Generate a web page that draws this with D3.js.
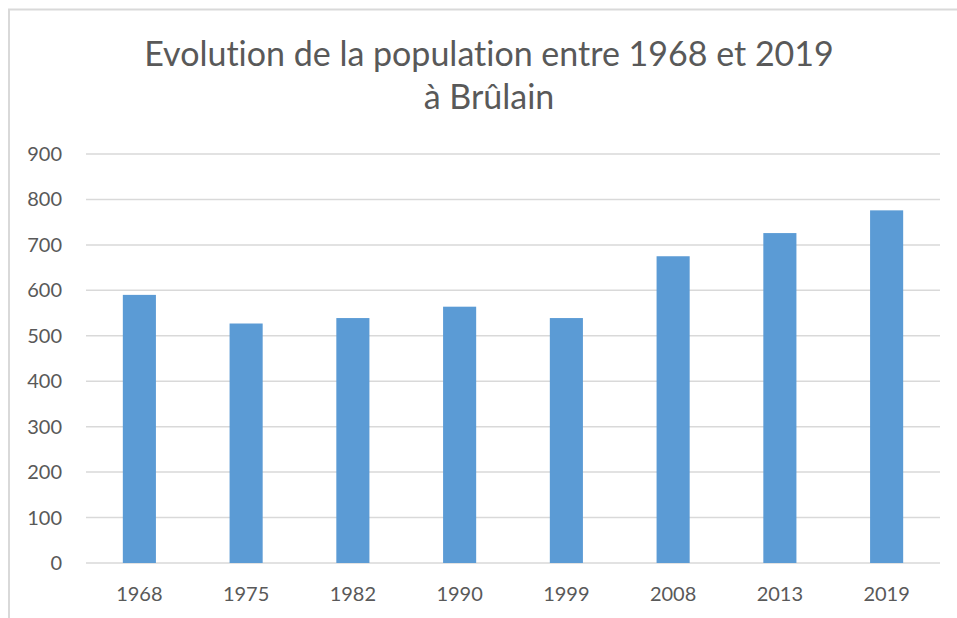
<!DOCTYPE html>
<html><head><meta charset="utf-8">
<script src="https://cdn.jsdelivr.net/npm/d3@7"></script>
<style>body{margin:0;background:#fff}svg{display:block}text{font-variant-ligatures:none}</style>
</head><body>
<script>
const years = ["1968","1975","1982","1990","1999","2008","2013","2019"];
const population = [590, 527, 539, 564, 539, 675, 726, 776];
const yTicks = [0,100,200,300,400,500,600,700,800,900];
const titleLines = ["Evolution de la population entre 1968 et 2019","à Brûlain"];

const W=957,H=618;
const svg=d3.select("body").append("svg").attr("width",W).attr("height",H);
svg.append("rect").attr("x",0).attr("y",0).attr("width",W).attr("height",H).attr("fill","#fff");
// border
svg.append("path").attr("d","M9,618 V9.5 H957").attr("fill","none").attr("stroke","#d9d9d9").attr("stroke-width",2);

const font="Lato, 'Open Sans', sans-serif";
const x=d3.scaleBand().domain(years).range([86,940]).paddingInner(0.69).paddingOuter(0.345);
const y=d3.scaleLinear().domain([0,900]).range([563,154]);

svg.append("g").selectAll("line").data(yTicks).join("line")
 .attr("x1",86).attr("x2",940).attr("y1",d=>y(d)).attr("y2",d=>y(d))
 .attr("stroke","#d9d9d9").attr("stroke-width",1.5);

svg.append("g").selectAll("rect").data(years).join("rect")
 .attr("x",d=>x(d)).attr("width",x.bandwidth())
 .attr("y",(d,i)=>y(population[i])).attr("height",(d,i)=>y(0)-y(population[i]))
 .attr("fill","#5b9bd5");

svg.append("g").selectAll("text").data(yTicks).join("text")
 .attr("x",62).attr("y",d=>y(d)).attr("dy","0.35em").attr("text-anchor","end")
 .attr("font-family",font).attr("font-size",20).attr("fill","#595959").text(d=>d);

svg.append("g").selectAll("text").data(years).join("text")
 .attr("x",d=>x(d)+x.bandwidth()/2).attr("y",594).attr("dy","0.35em").attr("text-anchor","middle")
 .attr("font-family",font).attr("font-size",20).attr("fill","#595959").text(d=>d);

svg.append("g").selectAll("text").data(titleLines).join("text")
 .attr("x",489).attr("y",(d,i)=>54+i*43).attr("dy","0.35em").attr("text-anchor","middle")
 .attr("font-family",font).attr("font-size",34).attr("fill","#595959").text(d=>d);
</script>
</body></html>
